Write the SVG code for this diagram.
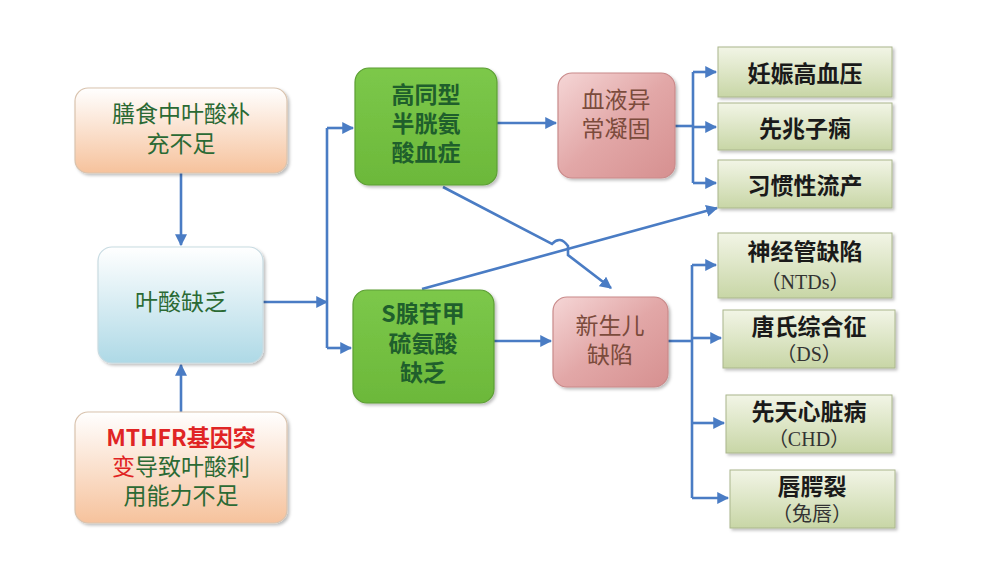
<svg xmlns="http://www.w3.org/2000/svg" width="990" height="578" viewBox="0 0 990 578">
<defs>
<linearGradient id="peach" x1="0" y1="0" x2="0" y2="1"><stop offset="0" stop-color="#ffffff"/><stop offset="1" stop-color="#f6c29c"/></linearGradient>
<linearGradient id="blue" x1="0" y1="0" x2="0" y2="1"><stop offset="0" stop-color="#ffffff"/><stop offset="1" stop-color="#aed9e6"/></linearGradient>
<linearGradient id="green" x1="0" y1="0" x2="0" y2="1"><stop offset="0" stop-color="#7cc84a"/><stop offset="1" stop-color="#6cb83a"/></linearGradient>
<linearGradient id="pink" x1="0" y1="0" x2="1" y2="1"><stop offset="0" stop-color="#f5d6d6"/><stop offset="0.5" stop-color="#e2a7a7"/><stop offset="1" stop-color="#d69090"/></linearGradient>
<linearGradient id="sage" x1="0" y1="0" x2="0" y2="1"><stop offset="0" stop-color="#f2f5e6"/><stop offset="1" stop-color="#c8d6a6"/></linearGradient>
<marker id="ah" viewBox="0 0 10 10" refX="9" refY="5" markerWidth="4.6" markerHeight="4.6" orient="auto" markerUnits="strokeWidth"><path d="M0,0 L10,5 L0,10 Z" fill="#4a7cc4"/></marker>
<filter id="sh" x="-10%" y="-10%" width="130%" height="130%"><feDropShadow dx="2" dy="2" stdDeviation="1.5" flood-color="#000" flood-opacity="0.25"/></filter>
</defs>
<style>
.c{fill:none;stroke:#4a7cc4;stroke-width:2.6}
.a{marker-end:url(#ah)}
.lb{stroke:#d9c3ae;stroke-width:1.2}
.gb{fill:url(#green);stroke:#5c9e34;stroke-width:1.2}
.pb{fill:url(#pink);stroke:#c98a8a;stroke-width:1.2}
.sb{fill:url(#sage);stroke:#aab68c;stroke-width:1}
text{font-family:"Noto Sans CJK SC","Noto Sans",sans-serif;text-anchor:middle;dominant-baseline:central}
.tl{font-size:23px;fill:#2b6a34}
.tg{font-size:23px;fill:#1f5f2c;font-weight:bold}
.tp{font-size:23px;fill:#7b4b3c}
.tr{font-size:23px;fill:#1a1a1a;font-weight:bold}
.ts{font-family:"Liberation Serif","Noto Sans CJK SC",serif;font-size:20px;fill:#333}
</style>
<rect width="990" height="578" fill="#ffffff"/>
<g id="connectors">
<path class="c a" d="M181,173 L181,245"/>
<path class="c a" d="M181,412 L181,365"/>
<path class="c a" d="M263,302 L327,302"/>
<path class="c" d="M327,128 L327,348"/>
<path class="c a" d="M327,128 L353,128"/>
<path class="c a" d="M327,348 L351,348"/>
<path class="c a" d="M497,123 L556,123"/>
<path class="c a" d="M494,341 L551,341"/>
<path class="c a" d="M443,187 L552,244 Q560,235 568,246 L568,255 L611,288"/>
<path class="c a" d="M422,289 L717,208"/>
<path class="c" d="M675,126 L693,126"/>
<path class="c" d="M693,72 L693,183"/>
<path class="c a" d="M693,72 L716,72"/>
<path class="c a" d="M693,127 L716,127"/>
<path class="c a" d="M693,183 L716,183"/>
<path class="c" d="M668,341 L692,341"/>
<path class="c" d="M692,265 L692,498"/>
<path class="c a" d="M692,265 L716,265"/>
<path class="c a" d="M692,338 L721,338"/>
<path class="c a" d="M692,423 L724,423"/>
<path class="c a" d="M692,498 L728,498"/>
</g>
<g id="n_diet"><rect x="75" y="88" width="212" height="85" rx="13" fill="url(#peach)" class="lb" filter="url(#sh)"/><text class="tl" x="181" y="112">膳食中叶酸补</text><text class="tl" x="181" y="142">充不足</text></g>
<g id="n_def"><rect x="98" y="247" width="165" height="116" rx="14" fill="url(#blue)" stroke="#c8dbe2" stroke-width="1.2" filter="url(#sh)"/><text class="tl" x="181" y="300">叶酸缺乏</text></g>
<g id="n_mthfr"><rect x="75" y="412" width="212" height="111" rx="13" fill="url(#peach)" class="lb" filter="url(#sh)"/><text class="tl" x="181" y="436"><tspan fill="#e02424" font-weight="bold">MTHFR基因突</tspan></text><text class="tl" x="181" y="465"><tspan fill="#e02424">变</tspan>导致叶酸利</text><text class="tl" x="181" y="494">用能力不足</text></g>
<g id="n_hcy"><rect x="355" y="68" width="142" height="117" rx="14" class="gb" filter="url(#sh)"/><text class="tg" x="426" y="93">高同型</text><text class="tg" x="426" y="122">半胱氨</text><text class="tg" x="426" y="151">酸血症</text></g>
<g id="n_sam"><rect x="353" y="290" width="141" height="113" rx="14" class="gb" filter="url(#sh)"/><text class="tg" x="423" y="312">S腺苷甲</text><text class="tg" x="423" y="342">硫氨酸</text><text class="tg" x="423" y="371">缺乏</text></g>
<g id="n_coag"><rect x="558" y="73" width="117" height="105" rx="14" class="pb" filter="url(#sh)"/><text class="tp" x="616" y="98">血液异</text><text class="tp" x="616" y="127">常凝固</text></g>
<g id="n_birth"><rect x="553" y="297" width="115" height="90" rx="14" class="pb" filter="url(#sh)"/><text class="tp" x="610" y="324">新生儿</text><text class="tp" x="610" y="353">缺陷</text></g>
<g id="n_pih"><rect x="718" y="47" width="174" height="50" class="sb" filter="url(#sh)"/><text class="tr" x="805" y="72">妊娠高血压</text></g>
<g id="n_pe"><rect x="718" y="103" width="174" height="47" class="sb" filter="url(#sh)"/><text class="tr" x="805" y="127">先兆子痫</text></g>
<g id="n_ra"><rect x="718" y="160" width="174" height="48" class="sb" filter="url(#sh)"/><text class="tr" x="805" y="184">习惯性流产</text></g>
<g id="n_ntd"><rect x="718" y="233" width="174" height="65" class="sb" filter="url(#sh)"/><text class="tr" x="805" y="250">神经管缺陷</text><text class="ts" x="805" y="282">（NTDs）</text></g>
<g id="n_ds"><rect x="723" y="310" width="172" height="58" class="sb" filter="url(#sh)"/><text class="tr" x="809" y="325">唐氏综合征</text><text class="ts" x="809" y="354">（DS）</text></g>
<g id="n_chd"><rect x="726" y="395" width="166" height="58" class="sb" filter="url(#sh)"/><text class="tr" x="809" y="410">先天心脏病</text><text class="ts" x="809" y="439">（CHD）</text></g>
<g id="n_cl"><rect x="730" y="470" width="165" height="58" class="sb" filter="url(#sh)"/><text class="tr" x="812" y="485">唇腭裂</text><text class="ts" x="812" y="514">（兔唇）</text></g>
</svg>
